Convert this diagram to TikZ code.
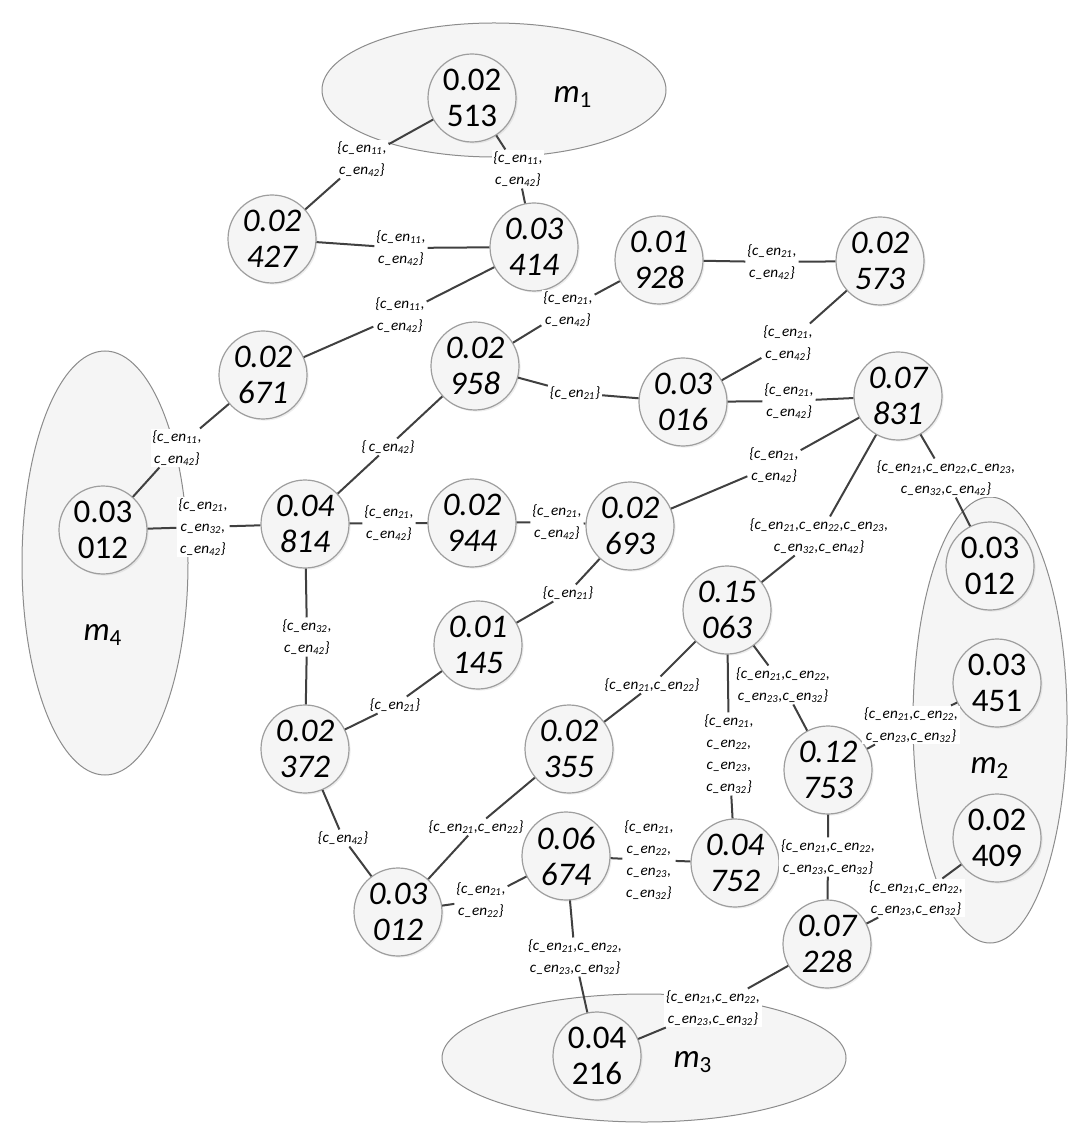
\documentclass[tikz,border=0pt]{standalone}
\usepackage{fontspec}
\setmainfont{Carlito}
\usetikzlibrary{shadows}
\newcommand{\cen}[1]{c\_en\textsubscript{#1}}

\begin{document}
\begin{tikzpicture}[x=0.5pt,y=-0.5pt]
       \tikzstyle{probnode}=[circle, minimum size=44pt, inner sep=0pt, draw=black!38, line width=0.6pt, fill=black!4, align=center, font=\fontsize{16.5}{18}\selectfont\itshape, drop shadow={opacity=0.14, shadow xshift=0.8pt, shadow yshift=-0.8pt}]
       \tikzstyle{grpnode}=[probnode, font=\fontsize{16.5}{18}\selectfont]
       \tikzstyle{grpell}=[draw=black!45, line width=0.5pt, fill=black!4]
       \tikzstyle{grplabel}=[font=\fontsize{16.5}{18}\selectfont]
       \tikzstyle{linklabel}=[fill=white, inner sep=0.8pt, align=center, font=\fontsize{7.6}{11}\selectfont\itshape]
       \tikzstyle{link}=[draw=black!75, line width=1pt]
       \useasboundingbox (0,0) rectangle (1080,1143);
       \draw[grpell] (494,90) ellipse [x radius=172, y radius=67];
       \draw[grpell] (105,563) ellipse [x radius=83, y radius=212];
       \draw[grpell] (990,720) ellipse [x radius=77, y radius=223];
       \draw[grpell] (644,1058) ellipse [x radius=202, y radius=64];
       \node[grplabel] (m1) at (573,97) {\textit{m}\textsubscript{1}};
       \node[grplabel] (m4) at (103,635) {\textit{m}\textsubscript{4}};
       \node[grplabel] (m2) at (990,768) {\textit{m}\textsubscript{2}};
       \node[grplabel] (m3) at (693,1062) {\textit{m}\textsubscript{3}};
       \node[grpnode] (n513) at (472,98) {0.02\\513};
       \node[probnode] (n427) at (272,239) {0.02\\427};
       \node[probnode] (n414) at (534,247) {0.03\\414};
       \node[probnode] (n928) at (659,260) {0.01\\928};
       \node[probnode] (n573) at (880,261) {0.02\\573};
       \node[probnode] (n671) at (263,375) {0.02\\671};
       \node[probnode] (n958) at (475,366) {0.02\\958};
       \node[probnode] (n016) at (683,402) {0.03\\016};
       \node[probnode] (n831) at (898,396) {0.07\\831};
       \node[grpnode] (n012a) at (103,530) {0.03\\012};
       \node[probnode] (n814) at (305,524) {0.04\\814};
       \node[probnode] (n944) at (472,523) {0.02\\944};
       \node[probnode] (n693) at (630,526) {0.02\\693};
       \node[grpnode] (n012b) at (990,566) {0.03\\012};
       \node[probnode] (n063) at (727,610) {0.15\\063};
       \node[probnode] (n145) at (478,645) {0.01\\145};
       \node[grpnode] (n451) at (997,683) {0.03\\451};
       \node[probnode] (n372) at (305,749) {0.02\\372};
       \node[probnode] (n355) at (569,749) {0.02\\355};
       \node[probnode] (n753) at (828,770) {0.12\\753};
       \node[grpnode] (n409) at (997,838) {0.02\\409};
       \node[probnode] (n674) at (566,856) {0.06\\674};
       \node[probnode] (n752) at (735,863) {0.04\\752};
       \node[probnode] (n012c) at (398,912) {0.03\\012};
       \node[probnode] (n228) at (827,944) {0.07\\228};
       \node[grpnode] (n216) at (597,1056) {0.04\\216};
       \node[linklabel] (l1) at (362,159) {\{\cen{11},\\\cen{42}\}};
       \node[linklabel] (l2) at (518,169) {\{\cen{11},\\\cen{42}\}};
       \node[linklabel] (l3) at (401,248) {\{\cen{11},\\\cen{42}\}};
       \node[linklabel] (l4) at (400,315) {\{\cen{11},\\\cen{42}\}};
       \node[linklabel] (l5) at (568,309) {\{\cen{21},\\\cen{42}\}};
       \node[linklabel] (l6) at (772,262) {\{\cen{21},\\\cen{42}\}};
       \node[linklabel] (l7) at (788,343) {\{\cen{21},\\\cen{42}\}};
       \node[linklabel] (l8) at (575,393) {\{\cen{21}\}};
       \node[linklabel] (l9) at (789,401) {\{\cen{21},\\\cen{42}\}};
       \node[linklabel] (l10) at (177,448) {\{\cen{11},\\\cen{42}\}};
       \node[linklabel] (l11) at (203,527) {\{\cen{21},\\\cen{32},\\\cen{42}\}};
       \node[linklabel] (l12) at (388,447) {\{\,\cen{42}\}};
       \node[linklabel] (l13) at (389,523) {\{\cen{21},\\\cen{42}\}};
       \node[linklabel] (l14) at (557,522) {\{\cen{21},\\\cen{42}\}};
       \node[linklabel] (l15) at (774,465) {\{\cen{21},\\\cen{42}\}};
       \node[linklabel] (l16) at (946,478) {\{\cen{21},\cen{22},\cen{23},\\\cen{32},\cen{42}\}};
       \node[linklabel] (l17) at (819,536) {\{\cen{21},\cen{22},\cen{23},\\\cen{32},\cen{42}\}};
       \node[linklabel] (l18) at (568,593) {\{\cen{21}\}};
       \node[linklabel] (l19) at (307,637) {\{\cen{32},\\\cen{42}\}};
       \node[linklabel] (l20) at (395,705) {\{\cen{21}\}};
       \node[linklabel] (l21) at (343,838) {\{\cen{42}\}};
       \node[linklabel] (l22) at (652,685) {\{\cen{21},\cen{22}\}};
       \node[linklabel] (l23) at (729,754) {\{\cen{21},\\\cen{22},\\\cen{23},\\\cen{32}\}};
       \node[linklabel] (l24) at (783,685) {\{\cen{21},\cen{22},\\\cen{23},\cen{32}\}};
       \node[linklabel] (l25) at (911,725) {\{\cen{21},\cen{22},\\\cen{23},\cen{32}\}};
       \node[linklabel] (l26) at (828,857) {\{\cen{21},\cen{22},\\\cen{23},\cen{32}\}};
       \node[linklabel] (l27) at (476,827) {\{\cen{21},\cen{22}\}};
       \node[linklabel] (l28) at (481,900) {\{\cen{21},\\\cen{22}\}};
       \node[linklabel] (l29) at (649,860) {\{\cen{21},\\\cen{22},\\\cen{23},\\\cen{32}\}};
       \node[linklabel] (l30) at (575,957) {\{\cen{21},\cen{22},\\\cen{23},\cen{32}\}};
       \node[linklabel] (l31) at (916,898) {\{\cen{21},\cen{22},\\\cen{23},\cen{32}\}};
       \node[linklabel] (l32) at (713,1008) {\{\cen{21},\cen{22},\\\cen{23},\cen{32}\}};
       \draw[link] (n513) -- (l1) -- (n427);
       \draw[link] (n513) -- (l2) -- (n414);
       \draw[link] (n427) -- (l3) -- (n414);
       \draw[link] (n414) -- (l4) -- (n671);
       \draw[link] (n958) -- (l5) -- (n928);
       \draw[link] (n928) -- (l6) -- (n573);
       \draw[link] (n573) -- (l7) -- (n016);
       \draw[link] (n958) -- (l8) -- (n016);
       \draw[link] (n016) -- (l9) -- (n831);
       \draw[link] (n671) -- (l10) -- (n012a);
       \draw[link] (n012a) -- (l11) -- (n814);
       \draw[link] (n958) -- (l12) -- (n814);
       \draw[link] (n814) -- (l13) -- (n944);
       \draw[link] (n944) -- (l14) -- (n693);
       \draw[link] (n693) -- (l15) -- (n831);
       \draw[link] (n831) -- (l16) -- (n012b);
       \draw[link] (n063) -- (l17) -- (n831);
       \draw[link] (n693) -- (l18) -- (n145);
       \draw[link] (n814) -- (l19) -- (n372);
       \draw[link] (n145) -- (l20) -- (n372);
       \draw[link] (n372) -- (l21) -- (n012c);
       \draw[link] (n063) -- (l22) -- (n355);
       \draw[link] (n063) -- (l23) -- (n752);
       \draw[link] (n063) -- (l24) -- (n753);
       \draw[link] (n753) -- (l25) -- (n451);
       \draw[link] (n753) -- (l26) -- (n228);
       \draw[link] (n355) -- (l27) -- (n012c);
       \draw[link] (n674) -- (l28) -- (n012c);
       \draw[link] (n674) -- (l29) -- (n752);
       \draw[link] (n674) -- (l30) -- (n216);
       \draw[link] (n228) -- (l31) -- (n409);
       \draw[link] (n228) -- (l32) -- (n216);
\end{tikzpicture}
\end{document}
